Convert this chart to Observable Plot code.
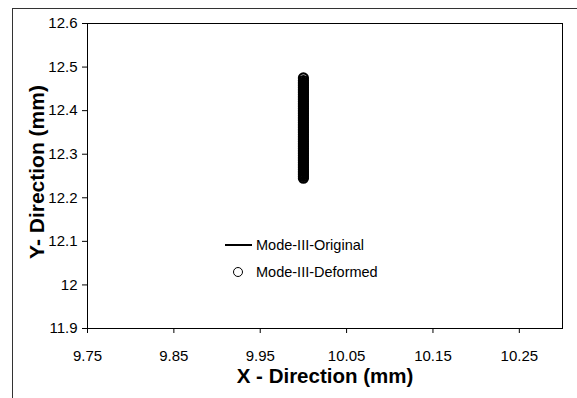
<!DOCTYPE html>
<html><head><meta charset="utf-8">
<script src="https://cdn.jsdelivr.net/npm/d3@7"></script>
<script src="https://cdn.jsdelivr.net/npm/@observablehq/plot@0.6"></script>
<style>
html,body{margin:0;padding:0;background:#fff;overflow:hidden;width:577px;height:398px}
#wrap{position:relative;width:577px;height:398px;font-family:"Liberation Sans",Arial,sans-serif;color:#000}
#border{position:absolute;left:12px;top:8px;width:800px;height:600px;border-left:1.5px solid #333;border-top:1.5px solid #333;pointer-events:none}
#wrap svg{position:absolute;left:0;top:0}
.lg{position:absolute;font-size:14.5px;line-height:16px;white-space:nowrap}
.lgline{position:absolute;left:225px;top:244px;width:27px;border-top:2px solid #000}
.lgdot{position:absolute;left:233px;top:267px;width:8px;height:8px;border:1px solid #000;border-radius:50%;background:#fff}
</style></head>
<body><div id="wrap"><div id="border"></div></div>
<script>
// ---- data ----
const seriesNames = ["Mode-III-Original", "Mode-III-Deformed"];
const originalX = [10.0, 10.0];
const originalY = [12.245, 12.475];
const deformedY = [12.245, 12.249, 12.253, 12.257, 12.261, 12.265, 12.269, 12.273, 12.277, 12.281,
  12.285, 12.289, 12.293, 12.297, 12.301, 12.305, 12.309, 12.313, 12.317, 12.321,
  12.325, 12.329, 12.333, 12.337, 12.341, 12.345, 12.349, 12.353, 12.357, 12.361,
  12.365, 12.369, 12.373, 12.377, 12.381, 12.385, 12.389, 12.393, 12.397, 12.401,
  12.405, 12.409, 12.413, 12.417, 12.421, 12.425, 12.429, 12.433, 12.437, 12.441,
  12.445, 12.449, 12.453, 12.457, 12.461, 12.465, 12.469, 12.475];
const deformedX = deformedY.map(() => 10.0);
const xTicks = [9.75, 9.85, 9.95, 10.05, 10.15, 10.25];
const xTickLabels = ["9.75", "9.85", "9.95", "10.05", "10.15", "10.25"];
const yTicks = [11.9, 12.0, 12.1, 12.2, 12.3, 12.4, 12.5, 12.6];
const yTickLabels = ["11.9", "12", "12.1", "12.2", "12.3", "12.4", "12.5", "12.6"];
const xLabel = "X - Direction (mm)";
const yLabel = "Y- Direction (mm)";

const original = originalX.map((x, i) => ({x, y: originalY[i]}));
const deformed = deformedX.map((x, i) => ({x, y: deformedY[i]}));

const chart = Plot.plot({
  width: 577,
  height: 398,
  marginLeft: 87,
  marginRight: 15,
  marginTop: 23,
  marginBottom: 70,
  style: {fontFamily: '"Liberation Sans", Arial, sans-serif', color: "#000", background: "transparent"},
  x: {domain: [9.75, 10.30]},
  y: {domain: [11.9, 12.6]},
  marks: [
    Plot.frame({stroke: "#000", strokeWidth: 1}),
    Plot.axisX({ticks: xTicks, tickFormat: d => xTickLabels[xTicks.indexOf(d)], tickSize: 5, tickPadding: 17, fontSize: 15, label: null, stroke: "#000"}),
    Plot.axisY({ticks: yTicks, tickFormat: d => yTickLabels[yTicks.indexOf(d)], tickSize: 5, tickPadding: 5, fontSize: 15, label: null, stroke: "#000"}),
    Plot.line(original, {x: "x", y: "y", stroke: "#000", strokeWidth: 3}),
    Plot.dot(deformed, {x: "x", y: "y", r: 4.5, stroke: "#000", strokeWidth: 2.2, fill: "none"}),
    Plot.text([xLabel], {frameAnchor: "bottom", dy: 54.5, fontSize: 20.5, fontWeight: "bold", fill: "#000"}),
    Plot.text([yLabel], {frameAnchor: "left", textAnchor: "middle", rotate: -90, dx: -50, dy: -4, fontSize: 21, fontWeight: "bold", fill: "#000"})
  ]
});
const wrap = document.getElementById("wrap");
wrap.insertBefore(chart, wrap.firstChild);

const l1 = document.createElement("div"); l1.className = "lgline"; wrap.appendChild(l1);
const t1 = document.createElement("div"); t1.className = "lg"; t1.style.left = "256px"; t1.style.top = "237px"; t1.textContent = seriesNames[0]; wrap.appendChild(t1);
const d2 = document.createElement("div"); d2.className = "lgdot"; wrap.appendChild(d2);
const t2 = document.createElement("div"); t2.className = "lg"; t2.style.left = "256px"; t2.style.top = "264px"; t2.textContent = seriesNames[1]; wrap.appendChild(t2);
</script>
</body></html>
